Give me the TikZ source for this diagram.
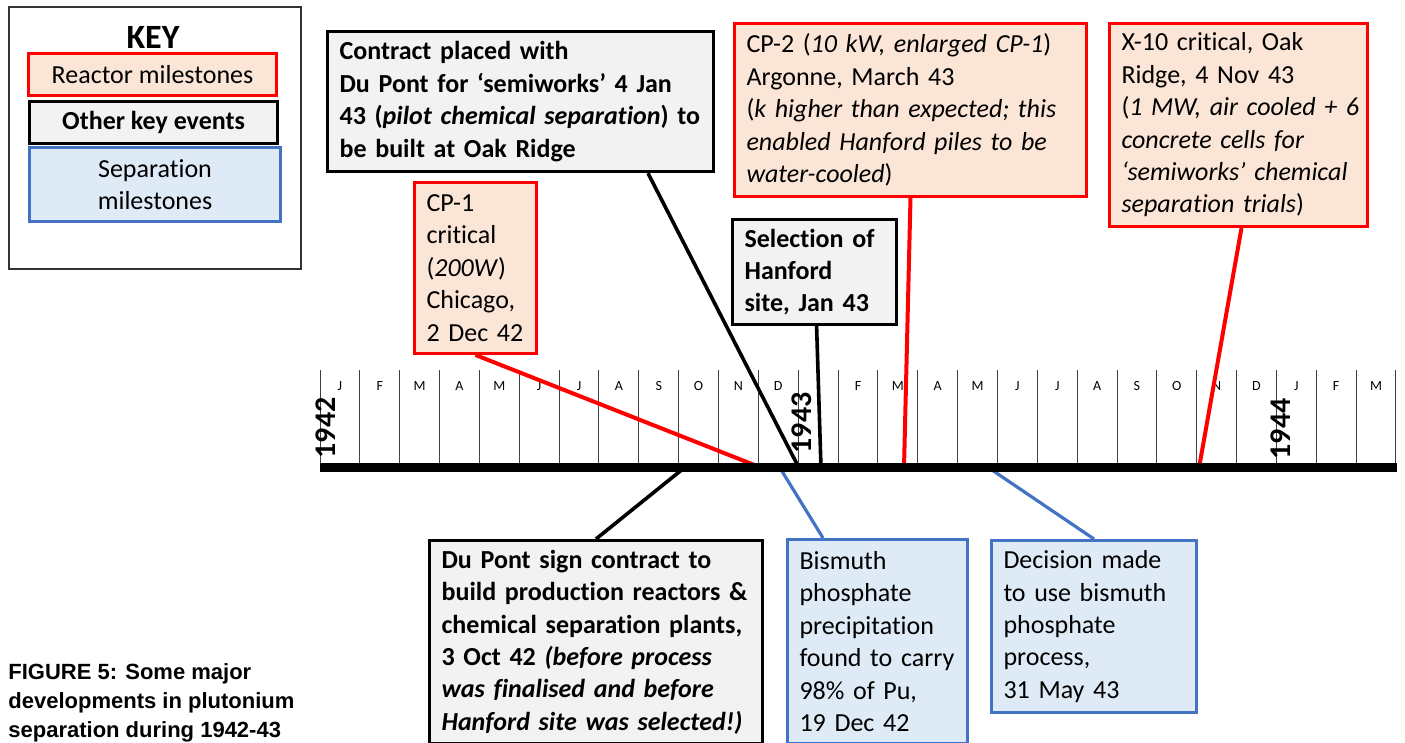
\documentclass[tikz,border=0pt]{standalone}
\usepackage{fontspec}
\setmainfont{Carlito}[Ligatures=NoCommon]
\newfontfamily\capfont{Liberation Sans}
\usetikzlibrary{calc}
\definecolor{rRed}{HTML}{FF0000}
\definecolor{rFill}{HTML}{FBE5D6}
\definecolor{gFill}{HTML}{F2F2F2}
\definecolor{bLine}{HTML}{4472C4}
\definecolor{bFill}{HTML}{DEEBF7}
\tikzset{
  box/.style={anchor=north west, inner xsep=6pt, inner ysep=0pt, align=left,
    font=\fontsize{13}{16.2}\selectfont},
  redbox/.style={box, draw=rRed, fill=rFill, line width=1.5pt},
  blackbox/.style={box, draw=black, fill=gFill, line width=1.6pt},
  bluebox/.style={box, draw=bLine, fill=bFill, line width=1.5pt},
  keyitem/.style={anchor=north west, inner sep=0pt, align=center,
    font=\fontsize{13}{16.2}\selectfont},
  redline/.style={draw=rRed, line width=2pt},
  blackline/.style={draw=black, line width=1.8pt},
  blueline/.style={draw=bLine, line width=1.6pt},
  monthtick/.style={draw=black!75, line width=0.5pt},
  mon/.style={font=\fontsize{7}{8}\selectfont, inner sep=0pt},
  yr/.style={font=\fontsize{15}{15}\selectfont\bfseries, rotate=90, inner sep=0pt},
}
\begin{document}
\begin{tikzpicture}[x=0.5pt, y=-0.5pt]
\useasboundingbox (0,0) rectangle (1405,743);

% ---------- KEY ----------
\node[draw=black!80, line width=0.8pt, anchor=north west, minimum width=146pt, minimum height=131pt, inner sep=0pt] (keybox) at (8,6) {};
\node[font=\fontsize{17}{17}\selectfont\bfseries, inner sep=0pt] (keytitle) at (153,37) {KEY};
\node[keyitem, draw=rRed, fill=rFill, line width=1.5pt, minimum width=124pt, minimum height=21pt] (keyR) at (27,52) {Reactor milestones};
\node[keyitem, draw=black, fill=gFill, line width=1.6pt, minimum width=124pt, minimum height=21pt, font=\fontsize{13}{16.2}\selectfont\bfseries] (keyO) at (28,100) {Other key events};
\node[keyitem, draw=bLine, fill=bFill, line width=1.5pt, minimum width=125.5pt, minimum height=37pt] (keyS) at (28,146) {Separation\\milestones};

% ---------- boxes ----------
\node[blackbox, text width=181pt, minimum height=70pt, font=\fontsize{13}{16.2}\selectfont\bfseries] (contract) at (326,30)
 {\mbox{Contract placed with}\\\mbox{Du Pont for ‘semiworks’ 4 Jan}\\\mbox{43 (\textit{pilot chemical separation}) to}\\\mbox{be built at Oak Ridge}};
\node[redbox, text width=49pt, minimum height=85.5pt] (cp1) at (413,181)
 {\mbox{CP-1}\\\mbox{critical}\\\mbox{(\textit{200W})}\\\mbox{Chicago,}\\\mbox{2 Dec 42}};
\node[blackbox, text width=70pt, minimum height=52.5pt, font=\fontsize{13}{16.2}\selectfont\bfseries] (sel) at (731,218)
 {\mbox{Selection of}\\\mbox{Hanford}\\\mbox{site, Jan 43}};
\node[redbox, text width=164pt, minimum height=86.5pt] (cp2) at (733,22)
 {\mbox{CP-2 (\textit{10 kW, enlarged CP-1})}\\\mbox{Argonne, March 43}\\\mbox{(\textit{k higher than expected; this}}\\\mbox{\textit{enabled Hanford piles to be}}\\\mbox{\textit{water-cooled})}};
\node[redbox, text width=117pt, minimum height=101.5pt] (x10) at (1108,22)
 {\mbox{X-10 critical, Oak}\\\mbox{Ridge, 4 Nov 43}\\\mbox{(\textit{1 MW, air cooled + 6}}\\\mbox{\textit{concrete cells for}}\\\mbox{\textit{‘semiworks’ chemical}}\\\mbox{\textit{separation trials})}};
\node[blackbox, text width=154.5pt, minimum height=101.5pt, font=\fontsize{13}{16.2}\selectfont\bfseries] (dupont) at (428,539)
 {\mbox{Du Pont sign contract to}\\\mbox{build production reactors \&}\\\mbox{chemical separation plants,}\\\mbox{3 Oct 42 \textit{(before process}}\\\mbox{\textit{was finalised and before}}\\\mbox{\textit{Hanford site was selected!)}}};
\node[bluebox, text width=78pt, minimum height=102pt] (bism) at (786,538)
 {\mbox{Bismuth}\\\mbox{phosphate}\\\mbox{precipitation}\\\mbox{found to carry}\\\mbox{98\% of Pu,}\\\mbox{19 Dec 42}};
\node[bluebox, text width=90.5pt, minimum height=86pt] (dec) at (990,539)
 {\mbox{Decision made}\\\mbox{to use bismuth}\\\mbox{phosphate}\\\mbox{process,}\\\mbox{31 May 43}};

% ---------- caption ----------
\node[anchor=north west, inner sep=0pt, align=left, font=\capfont\bfseries\fontsize{11}{14.5}\selectfont] (caption) at (8,663)
 {FIGURE 5: Some major\\developments in plutonium\\separation during 1942-43};

% ---------- timeline grid ----------
\foreach \i in {0,...,27}
  \draw[monthtick] ({320+\i*39.85},370) -- ({320+\i*39.85},468);
\foreach \m [count=\i from 0] in {J,F,M,A,M,J,J,A,S,O,N,D}
  \node[mon] (ma\i) at ({320+(\i+0.5)*39.85},386) {\m};
\foreach \m [count=\i from 13] in {F,M,A,M,J,J,A,S,O,N,D,J,F,M}
  \node[mon] (mb\i) at ({320+(\i+0.5)*39.85},386) {\m};
\node[yr] (y42) at (326,428) {1942};
\node[yr] (y43) at (802,423) {1943};
\node[yr] (y44) at (1281,429) {1944};

% ---------- connectors ----------
\coordinate (eCP1) at (762,468);
\coordinate (eCon) at (799,468);
\coordinate (eSel) at (821,468);
\coordinate (eCP2) at (904,468);
\coordinate (eX10) at (1199,468);
\coordinate (eDu) at (684,468);
\coordinate (eBi) at (780,468);
\coordinate (eDec) at (989,468);
\draw[redline] (cp1.south) -- (eCP1);
\draw[blackline] ([xshift=161pt]contract.south west) -- (eCon);
\draw[blackline] ([xshift=1pt]sel.south) -- (eSel);
\draw[redline] (cp2.south) -- (eCP2);
\draw[redline] ([xshift=1.5pt]x10.south) -- (eX10);
\draw[blackline] ([xshift=84pt]dupont.north west) -- (eDu);
\draw[blueline] ([xshift=18.5pt]bism.north west) -- (eBi);
\draw[blueline] (dec.north) -- (eDec);

% ---------- main axis ----------
\coordinate (ax0) at (320,468);
\coordinate (ax1) at (1397,468);
\draw[line width=4.5pt] (ax0) -- (ax1);
\end{tikzpicture}
\end{document}
